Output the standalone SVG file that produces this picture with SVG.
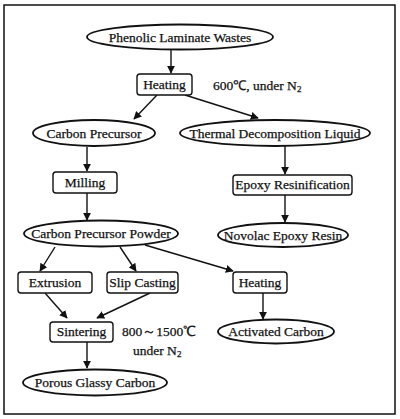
<svg xmlns="http://www.w3.org/2000/svg" width="400" height="419" viewBox="0 0 400 419">
<style>
.t{font-family:"Liberation Serif","Times New Roman",serif;font-size:13.5px;fill:#111;stroke:#111;stroke-width:0.25;text-anchor:middle}
.n{font-family:"Liberation Serif","Times New Roman",serif;font-size:13.5px;fill:#111;stroke:#111;stroke-width:0.25}
.e{fill:#fff;stroke:#111;stroke-width:1.8}
.b{fill:#fff;stroke:#111;stroke-width:1.4}
.c line{stroke:#111;stroke-width:1.4;marker-end:url(#ah)}
</style>
<defs>
<marker id="ah" viewBox="0 0 10 10" refX="9" refY="5" markerWidth="8" markerHeight="8" markerUnits="userSpaceOnUse" orient="auto">
<path d="M0,0 L10,5 L0,10 z" fill="#111"/>
</marker>
</defs>
<rect x="0" y="0" width="400" height="419" fill="#fff"/>
<rect x="4" y="5" width="391" height="409" fill="none" stroke="#111" stroke-width="1.5"/>
<g class="c">
<line x1="171" y1="50" x2="171" y2="73"/>
<line x1="157" y1="95" x2="134" y2="119"/>
<line x1="185" y1="95" x2="258" y2="118"/>
<line x1="87" y1="147" x2="87" y2="171"/>
<line x1="285" y1="146" x2="285" y2="174"/>
<line x1="87" y1="193" x2="87" y2="220"/>
<line x1="285" y1="195" x2="285" y2="222"/>
<line x1="55" y1="247" x2="40" y2="271"/>
<line x1="120" y1="247" x2="136" y2="271"/>
<line x1="145" y1="245" x2="233" y2="271"/>
<line x1="45" y1="293" x2="67" y2="318"/>
<line x1="150" y1="293" x2="97" y2="318"/>
<line x1="263" y1="293" x2="263" y2="319"/>
<line x1="87" y1="342" x2="87" y2="368"/>
</g>
<g id="phenolic"><ellipse class="e" cx="180" cy="37" rx="93" ry="12.5"/><text class="t" x="180" y="42">Phenolic Laminate Wastes</text></g>
<g id="heating1"><rect class="b" x="137" y="74" width="55" height="21" rx="3"/><text class="t" x="164.5" y="89">Heating</text></g>
<text class="n" x="213" y="90">600℃, under N<tspan font-size="9" dy="2">2</tspan></text>
<g id="carbon-precursor"><ellipse class="e" cx="94" cy="133" rx="61" ry="13"/><text class="t" x="94" y="138">Carbon Precursor</text></g>
<g id="thermal"><ellipse class="e" cx="275" cy="133" rx="95" ry="13"/><text class="t" x="275" y="138">Thermal Decomposition Liquid</text></g>
<g id="milling"><rect class="b" x="53" y="172" width="64" height="21" rx="3"/><text class="t" x="85" y="187">Milling</text></g>
<g id="epoxy-resinification"><rect class="b" x="233" y="175" width="119" height="20" rx="3"/><text class="t" x="292.5" y="189">Epoxy Resinification</text></g>
<g id="cpp"><ellipse class="e" cx="101" cy="233.5" rx="77" ry="13"/><text class="t" x="101" y="238">Carbon Precursor Powder</text></g>
<g id="novolac"><ellipse class="e" cx="283" cy="235" rx="65" ry="12"/><text class="t" x="283" y="240">Novolac Epoxy Resin</text></g>
<g id="extrusion"><rect class="b" x="18" y="272" width="74" height="21" rx="3"/><text class="t" x="55" y="287">Extrusion</text></g>
<g id="slip-casting"><rect class="b" x="107" y="272" width="71" height="21" rx="3"/><text class="t" x="142.5" y="287">Slip Casting</text></g>
<g id="heating2"><rect class="b" x="233" y="272" width="54" height="21" rx="3"/><text class="t" x="260" y="287">Heating</text></g>
<g id="sintering"><rect class="b" x="50" y="322" width="63" height="20" rx="3"/><text class="t" x="81.5" y="336">Sintering</text></g>
<text class="n" x="122" y="336">800～1500℃</text>
<text class="n" x="133" y="355">under N<tspan font-size="9" dy="2">2</tspan></text>
<g id="activated"><ellipse class="e" cx="276" cy="331.5" rx="58" ry="12"/><text class="t" x="276" y="336">Activated Carbon</text></g>
<g id="porous"><ellipse class="e" cx="95" cy="382.5" rx="72" ry="13"/><text class="t" x="95" y="387">Porous Glassy Carbon</text></g>
</svg>
